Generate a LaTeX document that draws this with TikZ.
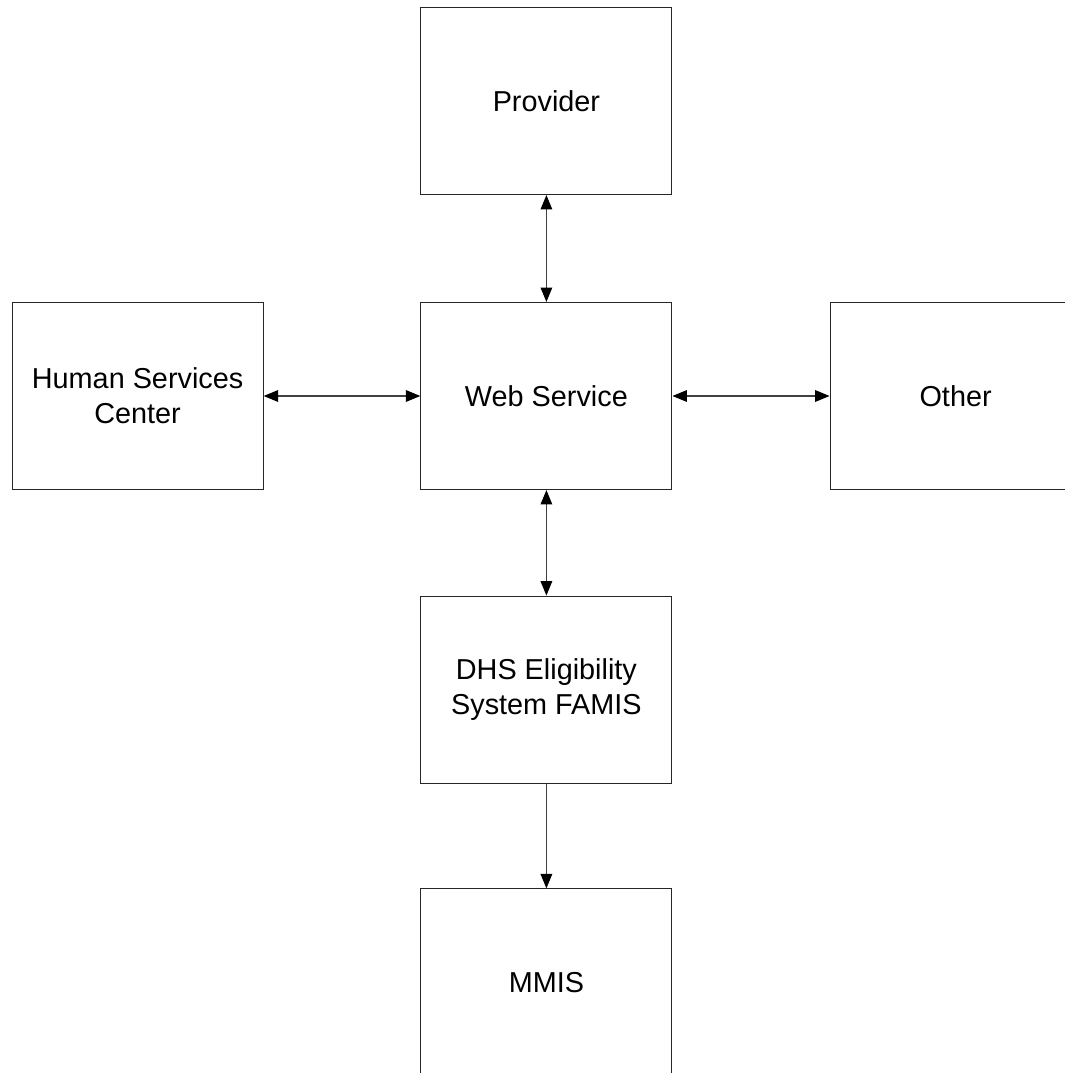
\documentclass[tikz,border=0pt]{standalone}
\usepackage{fontspec}
\setmainfont{Liberation Sans}
\usetikzlibrary{arrows.meta, positioning}

\tikzset{
  sysbox/.style={draw=black!85, line width=0.8pt, minimum width=6.275cm, minimum height=4.675cm,
    align=center, font=\fontsize{20.5}{25}\selectfont, inner sep=0pt},
  tip/.style={Triangle[length=3.6mm, width=2.9mm, fill=black]},
  link/.style={line width=0.8pt, black!75, {Triangle[length=3.6mm, width=2.9mm, fill=black, color=black]}-{Triangle[length=3.6mm, width=2.9mm, fill=black, color=black]}},
  oneway/.style={line width=0.8pt, black!75, -{Triangle[length=3.6mm, width=2.9mm, fill=black, color=black]}}
}

\begin{document}
\begin{tikzpicture}
  \useasboundingbox (0,0) rectangle (26.625,-26.825);
  \clip (0,0) rectangle (26.625,-26.825);

  % Boxes
  \node[sysbox] (provider) at (13.66,-2.525) {Provider};
  \node[sysbox] (web) at (13.66,-9.9) {Web Service};
  \node[sysbox] (hsc) at (3.44,-9.9) {Human Services\\Center};
  \node[sysbox] (other) at (23.89,-9.9) {Other};
  \node[sysbox] (dhs) at (13.66,-17.24) {DHS Eligibility\\System FAMIS};
  \node[sysbox] (mmis) at (13.66,-24.56) {MMIS};

  % Connections
  \draw[link] (provider) -- (web);
  \draw[link] (hsc) -- (web);
  \draw[link] (web) -- (other);
  \draw[link] (web) -- (dhs);
  \draw[oneway] (dhs) -- (mmis);
\end{tikzpicture}
\end{document}
